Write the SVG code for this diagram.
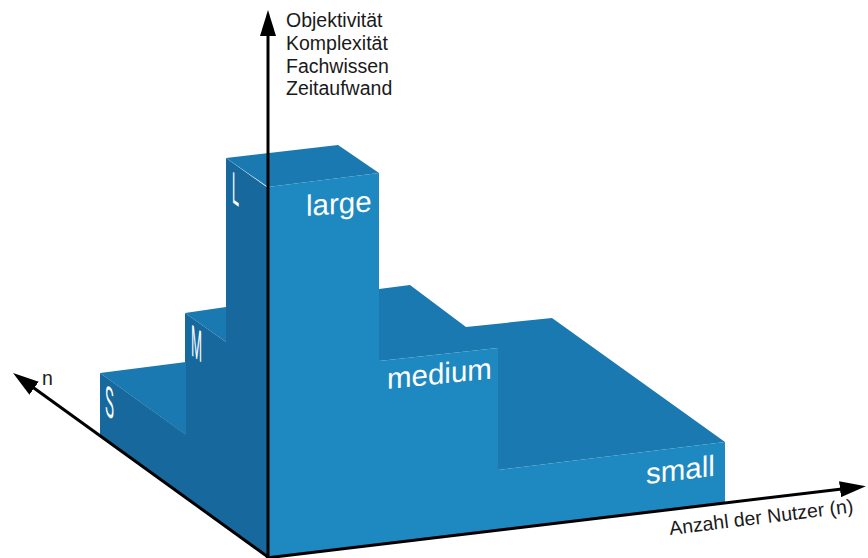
<svg xmlns="http://www.w3.org/2000/svg" width="868" height="558" viewBox="0 0 868 558">
  <defs>
    <style>
      .front { fill: #1e88c1; }
      .side { fill: #17689c; }
      .top { fill: #1a79b0; }
      .axis { stroke: #000; stroke-width: 3; fill: none; marker-end: url(#arrow); }
      .cap { font-family: "Liberation Sans", Arial, sans-serif; font-size: 19.5px; fill: #1a1a1a; }
      .face-label { font-family: "Liberation Sans", Arial, sans-serif; font-size: 29.5px; fill: #fff; }
      .side-label { font-family: "Liberation Sans", Arial, sans-serif; font-size: 38px; fill: #fff; }
    </style>
    <marker id="arrow" markerUnits="userSpaceOnUse" markerWidth="26" markerHeight="16" viewBox="0 0 26 16" refX="2" refY="8" orient="auto">
      <path d="M0,0 L26,8 L0,16 z" fill="#000"/>
    </marker>
  </defs>

  <rect width="868" height="558" fill="#fff"/>

  <!-- side face (r = 0 plane): S / M / L risers -->
  <g id="side-face">
    <polygon class="side" points="268,558 100,436 100,373 185,434 185,313 226,342 226,158 268,188"/>
  </g>

  <!-- top faces -->
  <g id="top-faces">
    <polygon class="top" points="100,373 186,362 186,435"/>
    <polygon class="top" points="185,313 226,307 226,342"/>
    <polygon class="top" points="226,158 338,145 379,173 268,187"/>
    <polygon class="top" points="379,289 410,285 466,327 552,318 725,442 498,470 498,348 379,361"/>
  </g>

  <!-- front face (n = 0 plane): large / medium / small -->
  <g id="front-face">
    <polygon class="front" points="268,187 379,173 379,361 498,348 498,470 725,442 725,503 268,558"/>
  </g>

  <!-- level labels on the side face (skewed into the side plane) -->
  <g id="side-labels">
    <text class="side-label" transform="matrix(0.33,0.238,0,1.18,232,202)">L</text>
    <text class="side-label" transform="matrix(0.35,0.252,0,1.18,191,355)">M</text>
    <text class="side-label" transform="matrix(0.355,0.256,0,1.15,105,414)">S</text>
  </g>

  <!-- size labels on the front face -->
  <g id="front-labels">
    <text class="face-label" transform="matrix(1,-0.07,0,1,306,216)">large</text>
    <text class="face-label" transform="matrix(1,-0.1,0,1,387,389)">medium</text>
    <text class="face-label" transform="matrix(1,-0.12,0,1,646,484)">small</text>
  </g>

  <!-- axes -->
  <g id="connectors">
    <line class="axis" x1="268" y1="558" x2="268" y2="34"/>
    <line class="axis" x1="268" y1="557" x2="32.5" y2="387"/>
    <line class="axis" x1="266" y1="558" x2="842" y2="489"/>
  </g>

  <!-- axis captions -->
  <g id="axis-labels">
    <text class="cap" x="286" y="27">Objektivität</text>
    <text class="cap" x="286" y="50">Komplexität</text>
    <text class="cap" x="286" y="73">Fachwissen</text>
    <text class="cap" x="286" y="95">Zeitaufwand</text>
    <text class="cap" x="42" y="385">n</text>
    <text class="cap" transform="translate(670,535) rotate(-7)">Anzahl der Nutzer (n)</text>
  </g>
</svg>
